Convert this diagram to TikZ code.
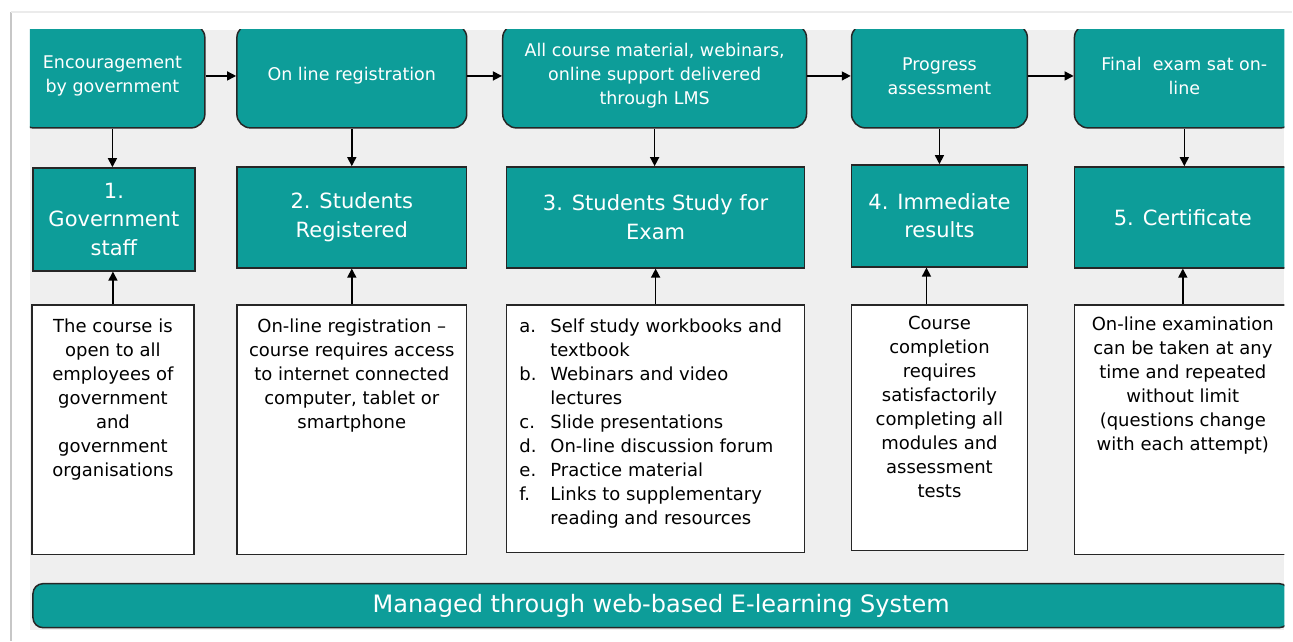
\documentclass[tikz,border=0pt]{standalone}
\usepackage{fontspec}
\setmainfont{DejaVu Sans}
\usetikzlibrary{arrows.meta}
\definecolor{tealbox}{RGB}{13,157,153}
\definecolor{panel}{RGB}{239,239,239}
\begin{document}
\begin{tikzpicture}[x=1pt,y=-1pt,>={Triangle[length=9pt,width=9pt]},line width=1.5pt,
	topbox/.style={draw=black!85,fill=tealbox,rounded corners=14pt,text=white,align=center,inner sep=0pt,minimum height=104pt,font=\fontsize{17.5}{24}\selectfont},
	stepbox/.style={draw=black!85,fill=tealbox,text=white,align=center,inner sep=0pt,font=\fontsize{21}{28.5}\selectfont},
	notebox/.style={draw=black!85,fill=white,inner sep=0pt},
	notetext/.style={anchor=north,align=center,inner sep=0pt,font=\fontsize{18}{24}\selectfont},
	barbox/.style={draw=black!85,fill=tealbox,rounded corners=10pt,text=white,inner sep=0pt,font=\fontsize{24}{28}\selectfont}]
			\fill[white] (0,0) rectangle (1293,641);
			\draw[black!22,line width=2pt] (11,12) -- (11,641);
			\draw[black!8,line width=1.5pt] (11,12) -- (1293,12);
			\fill[panel] (30,30) rectangle (1285,630);
			\begin{scope}
			\clip (30,30) rectangle (1285,630);
			\node[topbox,minimum width=185pt] (enc) at (112.5,76) {Encouragement\\by government};
			\node[topbox,minimum width=230pt] (reg) at (352,76) {On line registration};
			\node[topbox,minimum width=304pt] (lms) at (655,76) {All course material, webinars,\\online support delivered\\through LMS};
			\node[topbox,minimum width=176pt] (prog) at (940,76) {Progress\\assessment};
			\node[topbox,minimum width=220pt] (final) at (1185,76) {Final\ \ exam sat on-\\line};
			
			\node[stepbox,minimum width=162pt,minimum height=103pt] (gov) at (114,219.5) {1.\\Government\\staff};
			\node[stepbox,minimum width=230pt,minimum height=101pt] (stud) at (352,217.5) {2. Students\\Registered};
			\node[stepbox,minimum width=298pt,minimum height=101pt] (study) at (656,217.5) {3. Students Study for\\Exam};
			\node[stepbox,minimum width=176pt,minimum height=102pt] (res) at (940,216) {4. Immediate\\results};
			\node[stepbox,minimum width=217pt,minimum height=101pt] (cert) at (1183.5,217.5) {5. Certificate};
			
			\node[notebox,minimum width=162pt,minimum height=250pt] (open) at (113,430) {};
			\node[notebox,minimum width=230pt,minimum height=250pt] (access) at (352,430) {};
			\node[notebox,minimum width=298pt,minimum height=248pt] (items) at (656,429) {};
			\node[notebox,minimum width=176pt,minimum height=246pt] (compl) at (940,428) {};
			\node[notebox,minimum width=217pt,minimum height=250pt] (exam) at (1183.5,430) {};
			\node[notetext] (opentext) at (113,318) {The course is\\open to all\\employees of\\government\\and\\government\\organisations};
			\node[notetext] (accesstext) at (352,318) {On-line registration --\\course requires access\\to internet connected\\computer, tablet or\\smartphone};
			\node[anchor=north west,inner sep=0pt,font=\fontsize{18}{24}\selectfont] (itemstext) at (519,315) {\begin{tabular}{@{}p{31pt}@{}l@{}}
				a. & Self study workbooks and\\
				   & textbook\\
				b. & Webinars and video\\
				   & lectures\\
				c. & Slide presentations\\
				d. & On-line discussion forum\\
				e. & Practice material\\
				f. & Links to supplementary\\
				   & reading and resources
			\end{tabular}};
			\node[notetext] (compltext) at (940,316) {Course\\completion\\requires\\satisfactorily\\completing all\\modules and\\assessment\\tests};
			\node[notetext] (examtext) at (1183.5,316) {On-line examination\\can be taken at any\\time and repeated\\without limit\\(questions change\\with each attempt)};
			
			\node[barbox,minimum width=1257pt,minimum height=44pt] (lmsbar) at (661.5,606) {Managed through web-based E-learning System};
			
			\draw[->] (enc) -- (reg);
			\draw[->] (reg) -- (lms);
			\draw[->] (lms) -- (prog);
			\draw[->] (prog) -- (final);
			\draw[->] (enc) -- (enc |- gov.north);
			\draw[->] (reg) -- (reg |- stud.north);
			\draw[->] (lms) -- (lms |- study.north);
			\draw[->] (prog) -- (prog |- res.north);
			\draw[->] (final) -- (final |- cert.north);
			\draw[->] (open) -- (open |- gov.south);
			\draw[->] (access) -- (access |- stud.south);
			\draw[->] (items) -- (items |- study.south);
			\draw[->] ([xshift=-13pt]compl.north) -- ([xshift=-13pt]res.south);
			\draw[->] (exam) -- (exam |- cert.south);
			\end{scope}
		\end{tikzpicture}
\end{document}
